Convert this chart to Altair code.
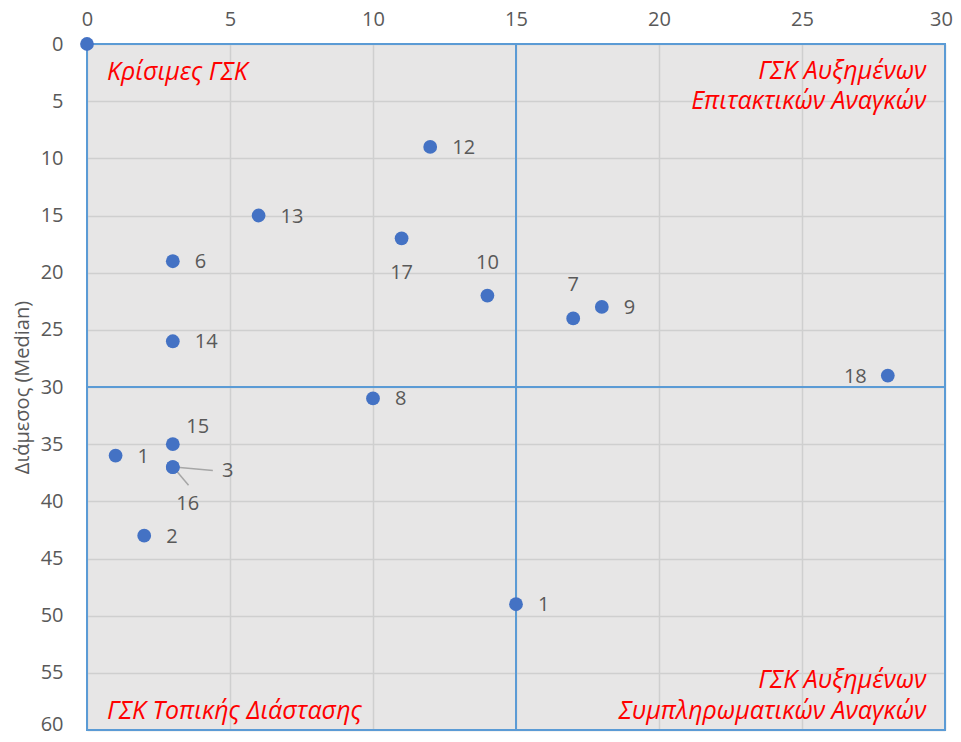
import altair as alt
import pandas as pd

# ---- data ----
pt_x = [0, 12, 6, 11, 3, 14, 17, 18, 3, 28, 10, 3, 1, 3, 3, 2, 15]
pt_y = [0, 9, 15, 17, 19, 22, 24, 23, 26, 29, 31, 35, 36, 37, 37, 43, 49]
pt_label = ["", "12", "13", "17", "6", "10", "7", "9", "14", "18", "8", "15", "1", "3", "16", "2", "1"]
pt_pos = ["none", "right", "right", "below", "right", "above", "above", "right", "right",
          "left", "right", "upright", "right", "far", "down", "right", "right"]

quad_x = [0, 15, 0, 15]
quad_x2 = [15, 30, 15, 30]
quad_y = [0, 0, 30, 30]
quad_y2 = [30, 30, 60, 60]

zone_text = ["Κρίσιμες ΓΣΚ", "ΓΣΚ Αυξημένων", "Επιτακτικών Αναγκών",
             "ΓΣΚ Τοπικής Διάστασης", "ΓΣΚ Αυξημένων", "Συμπληρωματικών Αναγκών"]
zone_x = [0.7, 29.35, 29.35, 0.7, 29.35, 29.35]
zone_y = [2.45, 2.36, 4.99, 58.3, 55.6, 58.3]
zone_align = ["left", "right", "right", "left", "right", "right"]

lead_x = [4.4, 3.55]
lead_y = [37.3, 38.6]
lead_x2 = [3.05, 3.05]
lead_y2 = [37.0, 37.1]

FONT = "Open Sans"
GRAY = "#595959"
BLUE_LINE = "#5B9BD5"
DOT = "#4472C4"

pts = pd.DataFrame({"x": pt_x, "y": pt_y, "label": pt_label, "pos": pt_pos})
quads = pd.DataFrame({"x": quad_x, "x2": quad_x2, "y": quad_y, "y2": quad_y2})
zones = pd.DataFrame({"t": zone_text, "x": zone_x, "y": zone_y, "a": zone_align})
leads = pd.DataFrame({"x": lead_x, "y": lead_y, "x2": lead_x2, "y2": lead_y2})

xscale = alt.Scale(domain=[0, 30], nice=False, zero=False)
yscale = alt.Scale(domain=[0, 60], nice=False, zero=False, reverse=True)

xenc = alt.X("x:Q", scale=xscale,
             axis=alt.Axis(orient="top", values=list(range(0, 31, 5)), title=None,
                           grid=True, domain=False, ticks=False, labelPadding=15,
                           labelFlush=False,
                           labelOffset={"condition": {"test": "datum.value == 30", "value": -4},
                                        "value": 0}))
yenc = alt.Y("y:Q", scale=yscale,
             axis=alt.Axis(values=list(range(0, 61, 5)), title="Διάμεσος (Median)",
                           grid=True, domain=False, ticks=False, labelPadding=24,
                           labelFlush=False, titlePadding=8,
                           labelOffset={"condition": {"test": "datum.value == 60", "value": -6},
                                        "value": 0}))

base_grid = alt.Chart(pts).mark_point(opacity=0).encode(x=xenc, y=yenc)

rects = alt.Chart(quads).mark_rect(fill=None, stroke=BLUE_LINE, strokeWidth=2).encode(
    x=alt.X("x:Q", scale=xscale), x2="x2:Q",
    y=alt.Y("y:Q", scale=yscale), y2="y2:Q")

leaders = alt.Chart(leads).mark_rule(color="#A6A6A6", strokeWidth=1.5).encode(
    x=alt.X("x:Q", scale=xscale), x2="x2:Q",
    y=alt.Y("y:Q", scale=yscale), y2="y2:Q")

dots = alt.Chart(pts).mark_circle(size=190, color=DOT, opacity=1).encode(
    x=alt.X("x:Q", scale=xscale), y=alt.Y("y:Q", scale=yscale))

offsets = {
    "right": dict(dx=22, dy=1, align="left"),
    "left": dict(dx=-21, dy=1, align="right"),
    "above": dict(dx=0, dy=-33, align="center"),
    "below": dict(dx=0, dy=35, align="center"),
    "upright": dict(dx=25, dy=-17, align="center"),
    "far": dict(dx=55, dy=4, align="center"),
    "down": dict(dx=15, dy=37, align="center"),
}
label_layers = []
for key, o in offsets.items():
    label_layers.append(
        alt.Chart(pts).transform_filter(alt.datum.pos == key).mark_text(
            font=FONT, fontSize=20, color=GRAY, baseline="middle", **o
        ).encode(x=alt.X("x:Q", scale=xscale), y=alt.Y("y:Q", scale=yscale), text="label:N")
    )

zone_layers = []
for a in ["left", "right"]:
    zone_layers.append(
        alt.Chart(zones).transform_filter(alt.datum.a == a).mark_text(
            font=FONT, fontSize=25, fontStyle="italic", color="#FF0000",
            align=a, baseline="middle"
        ).encode(x=alt.X("x:Q", scale=xscale), y=alt.Y("y:Q", scale=yscale), text="t:N")
    )

chart = alt.layer(base_grid, rects, leaders, dots, *label_layers, *zone_layers).properties(
    width=858, height=686,
    autosize=alt.AutoSizeParams(type="none"),
    padding={"left": 79, "top": 36, "right": 8, "bottom": 4},
    background="white",
).configure_view(
    fill="#E7E6E6", stroke=None
).configure_axis(
    gridColor="#CFCFCF", gridWidth=1.5,
    labelFont=FONT, labelFontSize=20, labelColor=GRAY,
    titleFont=FONT, titleFontSize=20, titleColor=GRAY, titleFontWeight="normal",
)

chart.save("out.html", embed_options={"renderer": "svg", "actions": False})
